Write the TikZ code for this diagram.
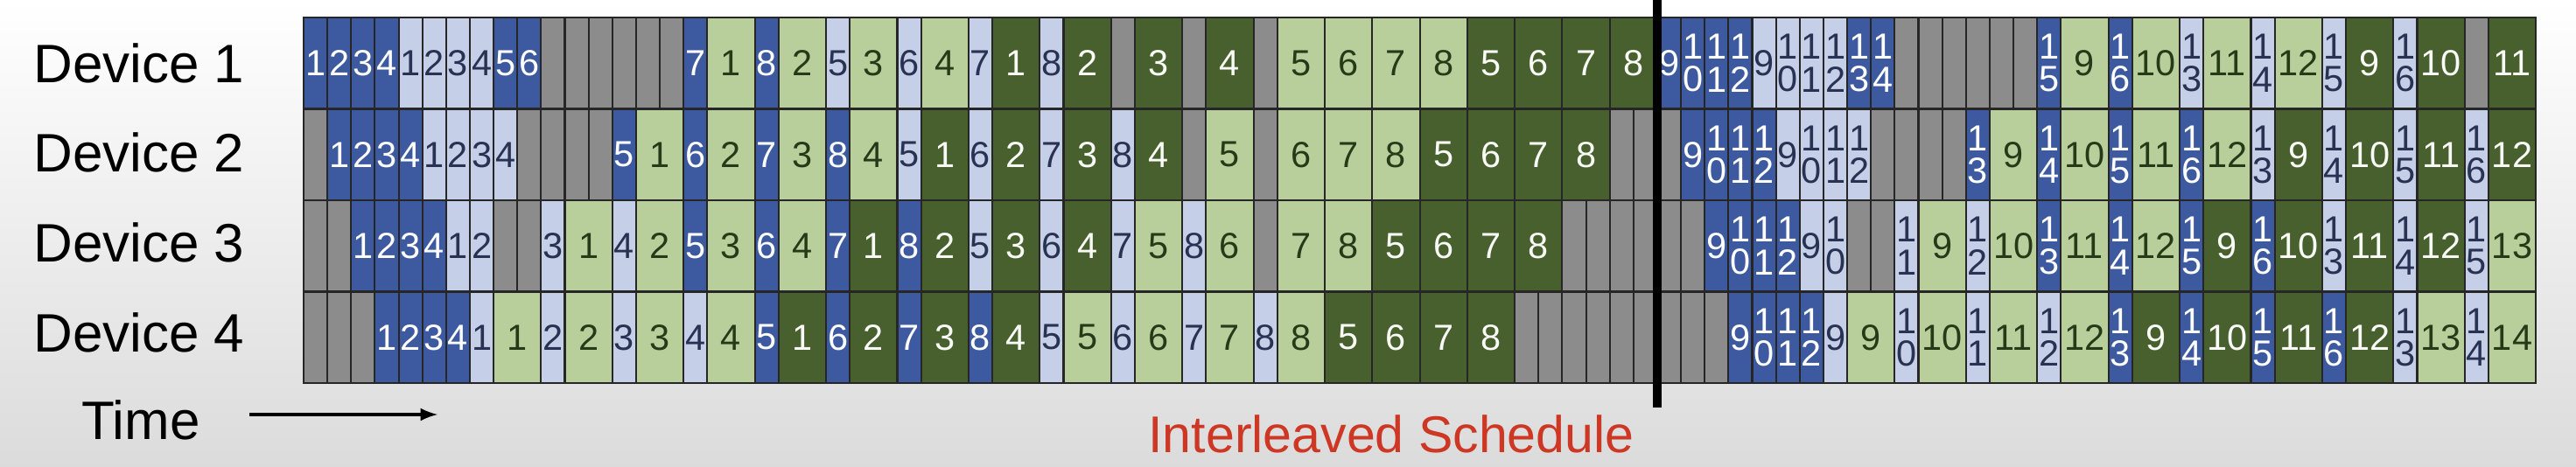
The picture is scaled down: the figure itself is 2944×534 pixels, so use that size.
\documentclass[tikz,border=0pt]{standalone}
\usepackage{fontspec}
\setmainfont{Liberation Sans}
\usepackage{tikz}

\definecolor{fwdone}{RGB}{61,90,160}
\definecolor{fwdtwo}{RGB}{197,208,232}
\definecolor{bwdtwo}{RGB}{184,207,156}
\definecolor{bwdone}{RGB}{72,95,46}
\definecolor{idlegray}{RGB}{140,140,140}
\definecolor{navytext}{RGB}{40,50,82}
\definecolor{leaftext}{RGB}{38,58,24}
\definecolor{titlered}{RGB}{205,55,35}

\tikzset{
  cell/.style={draw=black!85,line width=0.6pt,minimum height=1.045cm,inner sep=0pt,
    align=center,font=\fontsize{11.8}{10.6}\selectfont},
  fa/.style={cell,fill=fwdone,text=white},
  fb/.style={cell,fill=fwdtwo,text=navytext},
  bb/.style={cell,fill=bwdtwo,text=leaftext},
  ba/.style={cell,fill=bwdone,text=white!92!bwdtwo},
  idle/.style={cell,fill=idlegray},
  devlabel/.style={anchor=west,font=\fontsize{17.6}{20}\selectfont},
}

\newcommand\setcw[2]{\expandafter\gdef\csname cw-#1\endcsname{#2}}
\setcw{fa}{1}\setcw{fb}{1}\setcw{bb}{2}\setcw{ba}{2}\setcw{idle}{1}

\newcommand\schedrow[2]{%
  \gdef\curx{0}%
  \foreach \kind/\lab [count=\i] in {#2}{%
    \edef\w{\csname cw-\kind\endcsname}%
    \ifnum\lab=0 \def\txt{}%
    \else\ifnum\w=1 \ifnum\lab>9 \pgfmathtruncatemacro\low{\lab-10}\def\txt{1\\\low}%
      \else\def\txt{\lab}\fi
    \else\def\txt{\lab}\fi\fi
    \node[\kind,minimum width=\w*0.2714cm] (d#1-\i)
      at ({347+(\curx+\w/2)*27.14},{20+(#1-0.5)*104.5}) {\txt};
    \pgfmathsetmacro\nx{\curx+\w}\global\let\curx\nx
  }}

\begin{document}
\begin{tikzpicture}[x=0.01cm,y=-0.01cm]
  \useasboundingbox (0,0) rectangle (2944,534);
  \shade[top color=white,bottom color=black!14] (0,0) rectangle (2944,534);

  \schedrow{1}{fa/1,fa/2,fa/3,fa/4,fb/1,fb/2,fb/3,fb/4,fa/5,fa/6,%
    idle/0,idle/0,idle/0,idle/0,idle/0,idle/0,fa/7,bb/1,fa/8,bb/2,fb/5,bb/3,fb/6,bb/4,%
    fb/7,ba/1,fb/8,ba/2,idle/0,ba/3,idle/0,ba/4,idle/0,bb/5,bb/6,bb/7,bb/8,ba/5,ba/6,ba/7,ba/8,%
    fa/9,fa/10,fa/11,fa/12,fb/9,fb/10,fb/11,fb/12,fa/13,fa/14,%
    idle/0,idle/0,idle/0,idle/0,idle/0,idle/0,fa/15,bb/9,fa/16,bb/10,fb/13,bb/11,fb/14,bb/12,%
    fb/15,ba/9,fb/16,ba/10,idle/0,ba/11}
  \schedrow{2}{idle/0,fa/1,fa/2,fa/3,fa/4,fb/1,fb/2,fb/3,fb/4,idle/0,idle/0,idle/0,idle/0,%
    fa/5,bb/1,fa/6,bb/2,fa/7,bb/3,fa/8,bb/4,fb/5,ba/1,fb/6,ba/2,fb/7,ba/3,fb/8,ba/4,%
    idle/0,bb/5,idle/0,bb/6,bb/7,bb/8,ba/5,ba/6,ba/7,ba/8,idle/0,idle/0,%
    idle/0,fa/9,fa/10,fa/11,fa/12,fb/9,fb/10,fb/11,fb/12,idle/0,idle/0,idle/0,idle/0,%
    fa/13,bb/9,fa/14,bb/10,fa/15,bb/11,fa/16,bb/12,fb/13,ba/9,fb/14,ba/10,fb/15,ba/11,fb/16,ba/12}
  \schedrow{3}{idle/0,idle/0,fa/1,fa/2,fa/3,fa/4,fb/1,fb/2,idle/0,idle/0,%
    fb/3,bb/1,fb/4,bb/2,fa/5,bb/3,fa/6,bb/4,fa/7,ba/1,fa/8,ba/2,fb/5,ba/3,fb/6,ba/4,%
    fb/7,bb/5,fb/8,bb/6,idle/0,bb/7,bb/8,ba/5,ba/6,ba/7,ba/8,idle/0,idle/0,idle/0,idle/0,%
    idle/0,idle/0,fa/9,fa/10,fa/11,fa/12,fb/9,fb/10,idle/0,idle/0,%
    fb/11,bb/9,fb/12,bb/10,fa/13,bb/11,fa/14,bb/12,fa/15,ba/9,fa/16,ba/10,fb/13,ba/11,%
    fb/14,ba/12,fb/15,bb/13}
  \schedrow{4}{idle/0,idle/0,idle/0,fa/1,fa/2,fa/3,fa/4,%
    fb/1,bb/1,fb/2,bb/2,fb/3,bb/3,fb/4,bb/4,fa/5,ba/1,fa/6,ba/2,fa/7,ba/3,fa/8,ba/4,%
    fb/5,bb/5,fb/6,bb/6,fb/7,bb/7,fb/8,bb/8,ba/5,ba/6,ba/7,ba/8,%
    idle/0,idle/0,idle/0,idle/0,idle/0,idle/0,idle/0,idle/0,idle/0,fa/9,fa/10,fa/11,fa/12,%
    fb/9,bb/9,fb/10,bb/10,fb/11,bb/11,fb/12,bb/12,fa/13,ba/9,fa/14,ba/10,fa/15,ba/11,%
    fa/16,ba/12,fb/13,bb/13,fb/14,bb/14}

  \foreach \d in {1,...,4}
    \node[devlabel] (dev\d) at (26,{72+(\d-1)*102.7}) {Device \d};

  \coordinate (cuttop) at (1894,0);
  \coordinate (cutbot) at (1894,466);
  \draw[line width=2.8pt] (cuttop) -- (cutbot);

  \node[font=\fontsize{17.6}{20}\selectfont] (time) at (161,480) {Time};
  \coordinate (tstart) at (285,474);
  \coordinate (tend) at (500,474);
  \draw[-latex,line width=0.9pt] (tstart) -- (tend);

  \node[text=titlered,font=\fontsize{16.8}{20}\selectfont] (title) at (1590,496) {Interleaved Schedule};
\end{tikzpicture}
\end{document}
